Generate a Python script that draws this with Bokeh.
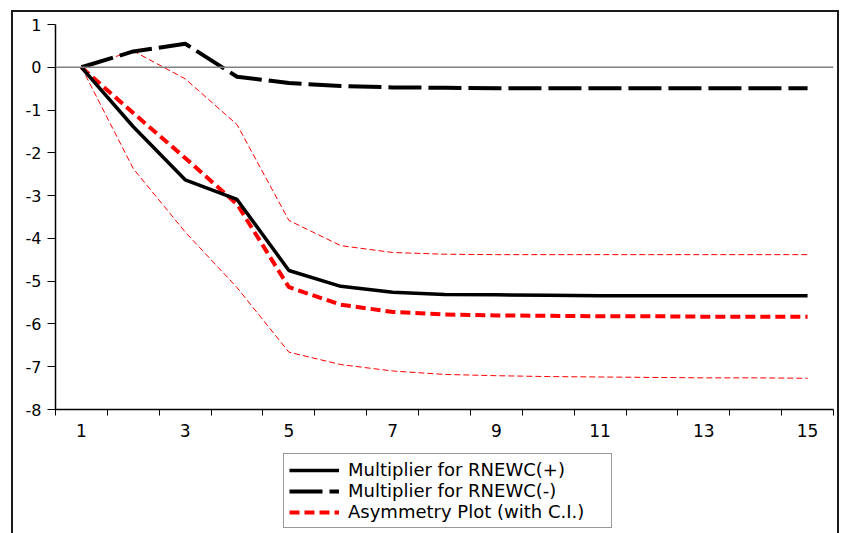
from bokeh.plotting import figure
from bokeh.models import (Range1d, FixedTicker, Span, Legend, LegendItem, CustomJSTickFormatter)
from bokeh.layouts import column
from bokeh.embed import file_html
from bokeh.resources import INLINE

periods = list(range(1, 16))
mult_pos = [0, -1.39, -2.63, -3.09, -4.75, -5.12, -5.26, -5.31, -5.32, -5.33, -5.34, -5.34, -5.34, -5.34, -5.34]
mult_neg = [0, 0.37, 0.55, -0.22, -0.37, -0.44, -0.47, -0.48, -0.49, -0.49, -0.49, -0.49, -0.49, -0.49, -0.49]
asym = [0, -1.07, -2.12, -3.2, -5.14, -5.55, -5.72, -5.78, -5.80, -5.81, -5.82, -5.82, -5.83, -5.83, -5.83]
ci_upper = [0, 0.38, -0.27, -1.34, -3.58, -4.17, -4.33, -4.37, -4.38, -4.38, -4.38, -4.38, -4.38, -4.38, -4.38]
ci_lower = [0, -2.37, -3.85, -5.15, -6.66, -6.95, -7.10, -7.18, -7.21, -7.23, -7.24, -7.25, -7.26, -7.26, -7.27]
x_labels = [1, 3, 5, 7, 9, 11, 13, 15]
y_ticks = list(range(-8, 2))
legend_labels = ["Multiplier for RNEWC(+)", "Multiplier for RNEWC(-)", "Asymmetry Plot (with C.I.)"]

FONT = "DejaVu Sans"

# styles of the series (shared by plot and legend key)
S_POS = dict(line_color="black", line_width=3.5)
S_NEG = dict(line_color="black", line_width=4, line_dash="33 7")
S_ASYM = dict(line_color="red", line_width=4, line_dash="10 5")
S_CI = dict(line_color="red", line_width=1, line_dash="6 3")

p = figure(frame_width=778, frame_height=385, output_backend="svg", toolbar_location=None,
           x_range=Range1d(0.5, 15.5), y_range=Range1d(-8, 1),
           min_border_left=55, min_border_right=8, min_border_top=24, min_border_bottom=40)
p.outline_line_color = None
p.xgrid.visible = False
p.ygrid.visible = False
p.background_fill_color = "white"
p.border_fill_color = None

xa = p.xaxis[0]
xa.ticker = FixedTicker(ticks=x_labels, minor_ticks=[i + 0.5 for i in range(0, 16)])
xa.major_tick_out = 0
xa.major_tick_in = 0
xa.minor_tick_out = 6
xa.minor_tick_in = 0
xa.minor_tick_line_color = "black"
xa.axis_line_color = "black"
xa.axis_line_width = 1.5
xa.major_label_text_font = FONT
xa.major_label_text_font_size = "17px"
xa.major_label_text_color = "black"
xa.major_label_standoff = 8

ya = p.yaxis[0]
ya.ticker = FixedTicker(ticks=y_ticks, minor_ticks=[])
ya.formatter = CustomJSTickFormatter(code="return String(tick);")
ya.major_tick_out = 8
ya.major_tick_in = 0
ya.minor_tick_out = 0
ya.minor_tick_in = 0
ya.axis_line_color = "black"
ya.axis_line_width = 1.5
ya.major_tick_line_color = "black"
ya.major_label_text_font = FONT
ya.major_label_text_font_size = "16px"
ya.major_label_text_color = "black"
ya.major_label_standoff = 6

p.add_layout(Span(location=0, dimension="width", line_color="#808080", line_width=1.5))

p.line(periods, ci_upper, **S_CI)
p.line(periods, ci_lower, **S_CI)
p.line(periods, asym, **S_ASYM)
p.line(periods, mult_pos, **S_POS)
p.line(periods, mult_neg, **S_NEG)

# legend strip under the chart (key renderers lie outside its view range)
q = figure(width=841, height=84, output_backend="svg", toolbar_location=None,
           x_range=Range1d(100, 101), y_range=Range1d(100, 101),
           min_border=0, x_axis_type=None, y_axis_type=None)
q.outline_line_color = None
q.xgrid.visible = False
q.ygrid.visible = False
q.background_fill_color = "white"
q.border_fill_color = None
k_pos = q.line(periods, mult_pos, **S_POS)
k_neg = q.line(periods, mult_neg, **S_NEG)
k_asym = q.line(periods, asym, **S_ASYM)

legend = Legend(items=[LegendItem(label=legend_labels[0], renderers=[k_pos]),
                       LegendItem(label=legend_labels[1], renderers=[k_neg]),
                       LegendItem(label=legend_labels[2], renderers=[k_asym])],
                location=(228, 5), orientation="vertical")
legend.label_text_font = FONT
legend.label_text_font_size = "18px"
legend.label_text_color = "black"
legend.glyph_width = 50
legend.glyph_height = 20
legend.label_height = 20
legend.label_width = 258
legend.spacing = 0
legend.padding = 5
legend.margin = 0
legend.label_standoff = 9
legend.border_line_color = "#333333"
legend.border_line_width = 1
legend.background_fill_color = "white"
legend.background_fill_alpha = 1
q.add_layout(legend, "center")

layout = column(p, q, spacing=0)
layout.styles = {
    "background-color": "white",
    "box-shadow": ("inset 11px 0 0 0 white, inset 0 10px 0 0 white, inset -2px 0 0 0 white, "
                   "inset 13px 0 0 0 #1a1a1a, inset 0 12px 0 0 #1a1a1a, inset -4px 0 0 0 #1a1a1a"),
}

open("out.html", "w").write(file_html(layout, INLINE))
